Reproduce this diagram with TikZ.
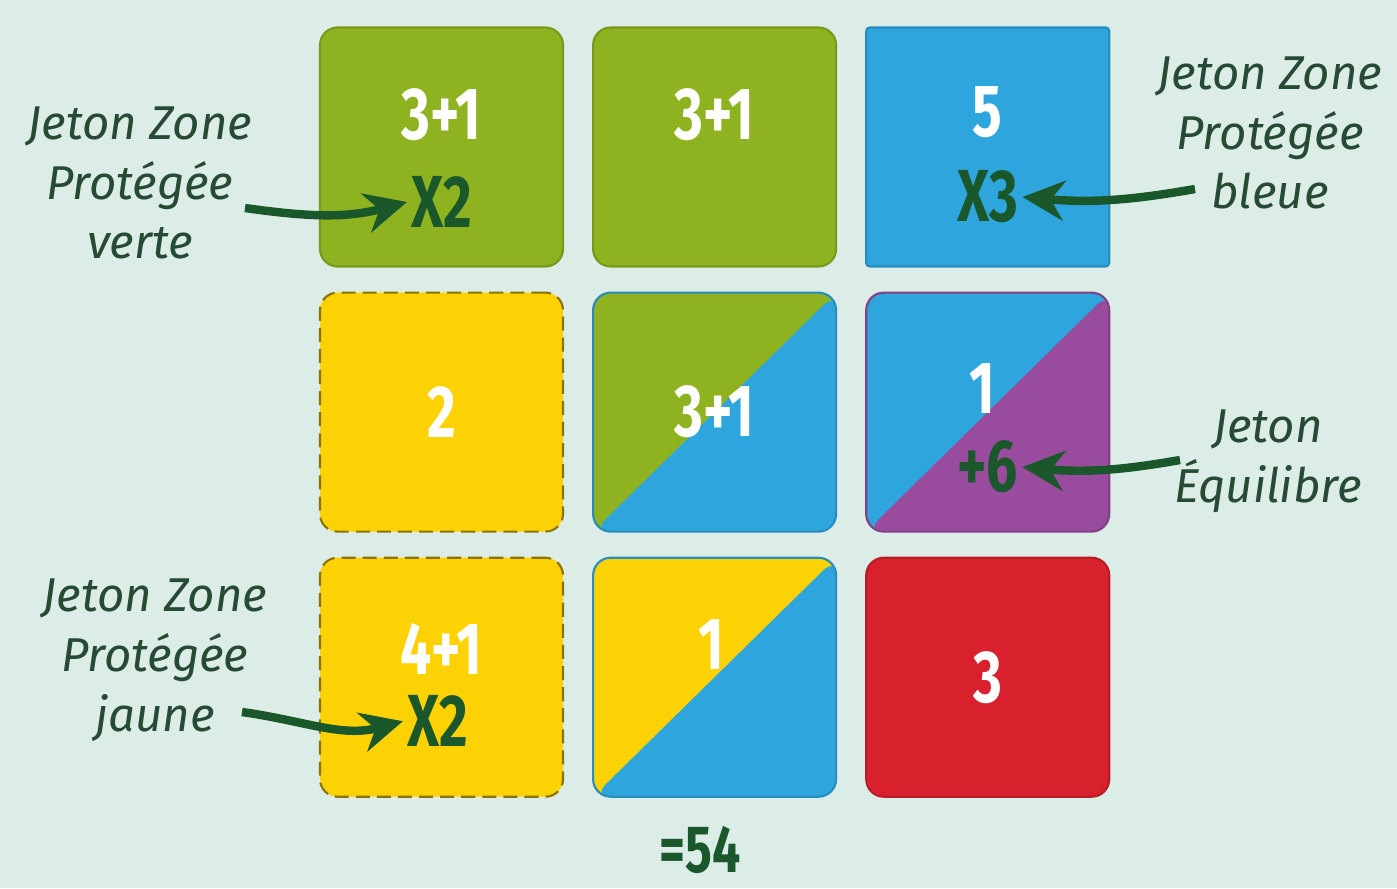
\documentclass[tikz,border=0pt]{standalone}
\usepackage{fontspec}
\setmainfont{Fira Sans}
\newfontfamily\tilefont[FakeStretch=0.75]{Fira Sans}
\usetikzlibrary{arrows.meta,calc,positioning}

\definecolor{bgmint}{RGB}{220,236,231}
\definecolor{zgreen}{RGB}{143,179,32}
\definecolor{zblue}{RGB}{46,166,221}
\definecolor{zyellow}{RGB}{253,210,4}
\definecolor{zpurple}{RGB}{153,75,157}
\definecolor{zred}{RGB}{217,33,46}
\definecolor{inkgreen}{RGB}{26,88,44}
\definecolor{labelgreen}{RGB}{38,74,52}

\begin{document}
\begin{tikzpicture}[
  node distance=0.24cm and 0.28cm,
  tile/.style={minimum width=2.43cm, minimum height=2.39cm, rounded corners=5pt, inner sep=0pt, line width=0.6pt},
  flat/.style={tile, fill=#1, draw=#1!85!black},
  dashtile/.style={tile, fill=zyellow, draw=zyellow!55!black, dash pattern=on 4pt off 2pt},
  split/.style 2 args={tile, fill=#1, draw=#2!85!black, path picture={
    \fill[#2] (path picture bounding box.south west) -- (path picture bounding box.north east) -- (path picture bounding box.south east) -- cycle;}},
  num/.style={font=\tilefont\bfseries\fontsize{21}{22}\selectfont, text=white, inner sep=1pt},
  token/.style={num, text=inkgreen},
  note/.style={font=\itshape\fontsize{13.5}{17}\selectfont, align=center, text=labelgreen},
  arrow/.style={-{Stealth[length=4.2mm, width=4mm]}, line width=2.4pt, inkgreen}
]
\useasboundingbox (0,0) rectangle (13.97,8.88);
\fill[bgmint] (0,0) rectangle (13.97,8.88);

% the nine tiles
\node[flat=zgreen] (t11) at (4.415,7.41) {};
\node[flat=zgreen, right=of t11] (t12) {};
\node[flat=zblue, rounded corners=1pt, right=of t12] (t13) {};
\node[dashtile, below=of t11] (t21) {};
\node[split={zgreen}{zblue}, below=of t12] (t22) {};
\node[split={zblue}{zpurple}, below=of t13] (t23) {};
\node[dashtile, below=of t21] (t31) {};
\node[split={zyellow}{zblue}, below=of t22] (t32) {};
\node[flat=zred, below=of t23] (t33) {};

% points on the tiles
\node[num, yshift=0.32cm] (n11) at (t11) {3+1};
\node[token, yshift=-0.55cm] (x11) at (t11) {X2};
\node[num, yshift=0.32cm] (n12) at (t12) {3+1};
\node[num, yshift=0.35cm] (n13) at (t13) {5};
\node[token, yshift=-0.50cm] (x13) at (t13) {X3};
\node[num] (n21) at (t21) {2};
\node[num] (n22) at (t22) {3+1};
\node[num, xshift=-0.05cm, yshift=0.24cm] (n23) at (t23) {1};
\node[token, yshift=-0.55cm] (p23) at (t23) {+6};
\node[num, yshift=0.28cm] (n31) at (t31) {4+1};
\node[token, xshift=-0.04cm, yshift=-0.44cm] (x31) at (t31) {X2};
\node[num, xshift=-0.03cm, yshift=0.33cm] (n32) at (t32) {1};
\node[num] (n33) at (t33) {3};
\node[token, inner sep=0pt, font=\tilefont\bfseries\fontsize{19}{20}\selectfont] (total) at (7.0,0.38) {=54};

% tokens
\node[note] (lgreen) at (1.40,7.05) {Jeton Zone\\Protégée\\verte};
\node[note] (lblue) at (12.70,7.55) {Jeton Zone\\Protégée\\bleue};
\node[note] (lbal) at (12.68,4.27) {Jeton\\Équilibre};
\node[note] (lyellow) at (1.55,2.28) {Jeton Zone\\Protégée\\jaune};

\coordinate (agreen) at (2.45,6.80);
\coordinate (ablue) at (11.95,6.99);
\coordinate (abal) at (11.80,4.28);
\coordinate (ayellow) at (2.42,1.76);
\draw[arrow] (agreen) to[out=-8, in=195] (x11.west);
\draw[arrow] (ablue) to[out=190, in=-5] (x13.east);
\draw[arrow] (abal) to[out=190, in=-5] (p23.east);
\draw[arrow] (ayellow) to[out=-8, in=195] (x31.west);
\end{tikzpicture}
\end{document}
